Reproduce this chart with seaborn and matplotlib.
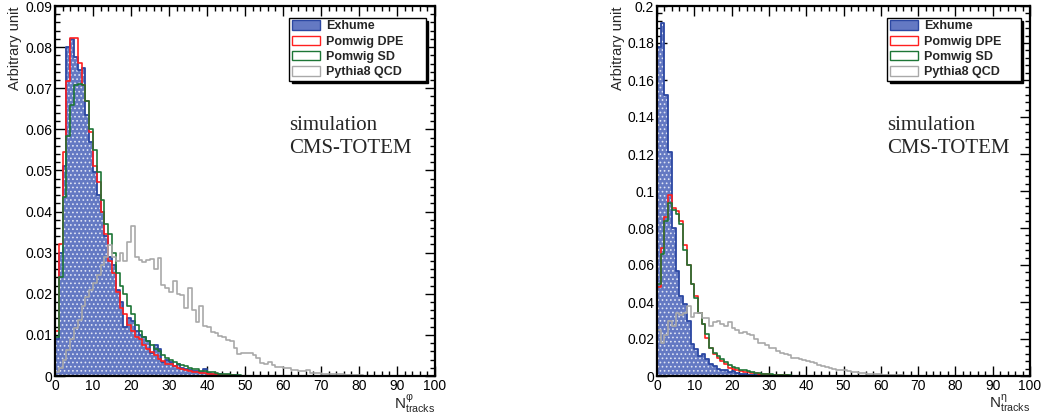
# N_tracks multiplicity, CMS-TOTEM simulation - two panels (phi / eta)
import numpy as np
import pandas as pd
import matplotlib
matplotlib.use("Agg")
import matplotlib.pyplot as plt
import seaborn as sns
from matplotlib.patches import Patch
from matplotlib.ticker import MultipleLocator, FuncFormatter

# bin contents, one value per unit-width bin starting at 0 (rest are empty)
phi_exhume = [0.009, 0.030, 0.051, 0.080, 0.082, 0.0775, 0.0745, 0.075, 0.0635, 0.057,
              0.0495, 0.044, 0.040, 0.034, 0.029, 0.027, 0.021, 0.018, 0.012, 0.014,
              0.0135, 0.011, 0.010, 0.0095, 0.0085, 0.0055, 0.0075, 0.0065, 0.0035, 0.004,
              0.0035, 0.0025, 0.0028, 0.002, 0.0018, 0.0015, 0.0012, 0.0012, 0.001, 0.0016,
              0.0008, 0.0006, 0.0005, 0.0004, 0.0003, 0.0003, 0.0002, 0.0002, 0.0001, 0.0001]
phi_dpe = [0.011, 0.032, 0.0545, 0.0717, 0.0823, 0.0823, 0.0761, 0.0707, 0.0668, 0.0594,
           0.0511, 0.0473, 0.040, 0.0345, 0.028, 0.025, 0.0205, 0.0165, 0.015, 0.0125,
           0.011, 0.0095, 0.009, 0.0075, 0.0065, 0.0058, 0.005, 0.0042, 0.0037, 0.003,
           0.0028, 0.0025, 0.002, 0.0018, 0.0015, 0.0013, 0.001, 0.0009, 0.0008, 0.0007,
           0.0006, 0.0005, 0.0004, 0.0003, 0.0003, 0.0002, 0.0002, 0.0001, 0.0001, 0.0001]
phi_sd = [0.0095, 0.024, 0.0435, 0.0584, 0.066, 0.0707, 0.071, 0.0707, 0.067, 0.060,
          0.055, 0.0497, 0.0427, 0.037, 0.0345, 0.030, 0.025, 0.022, 0.020, 0.017,
          0.015, 0.0125, 0.011, 0.0095, 0.0085, 0.0075, 0.0065, 0.006, 0.005, 0.0045,
          0.004, 0.0035, 0.003, 0.0027, 0.0024, 0.002, 0.0018, 0.0016, 0.0013, 0.0012,
          0.001, 0.0009, 0.0008, 0.0006, 0.0005, 0.0004, 0.0003, 0.0003, 0.0002, 0.0001]
phi_qcd = [0.001, 0.002, 0.004, 0.0063, 0.009, 0.0116, 0.0137, 0.017, 0.0193, 0.021,
           0.0226, 0.0246, 0.027, 0.029, 0.0318, 0.029, 0.028, 0.030, 0.028, 0.0326,
           0.0364, 0.029, 0.0282, 0.0277, 0.0282, 0.0285, 0.026, 0.0287, 0.0221, 0.0215,
           0.0205, 0.023, 0.020, 0.0198, 0.0165, 0.0215, 0.016, 0.0132, 0.017, 0.0122,
           0.012, 0.0108, 0.0105, 0.0097, 0.0095, 0.0088, 0.0085, 0.0068, 0.0054, 0.0057,
           0.0057, 0.0055, 0.0052, 0.0045, 0.0032, 0.003, 0.0035, 0.0027, 0.0023, 0.0023,
           0.002, 0.0019, 0.0015, 0.0015, 0.0012, 0.0013, 0.0014, 0.0008, 0.0007, 0.0007,
           0.0005, 0.0004, 0.0004, 0.0004, 0.0004, 0.0004, 0.0003, 0.0003, 0.0002, 0.0002,
           0.0002, 0.0001]

eta_exhume = [0.178, 0.191, 0.152, 0.121, 0.080, 0.0568, 0.043, 0.0387, 0.0297, 0.0171,
              0.0144, 0.0108, 0.0117, 0.009, 0.0063, 0.0054, 0.0036, 0.003, 0.0032, 0.002,
              0.0025, 0.0015, 0.0012, 0.001, 0.0008, 0.0006, 0.0005, 0.0004, 0.0003, 0.0002,
              0.0002, 0.0001]
eta_dpe = [0.048, 0.069, 0.086, 0.098, 0.091, 0.089, 0.084, 0.071, 0.060, 0.050,
           0.043, 0.034, 0.028, 0.0207, 0.0153, 0.0117, 0.0099, 0.008, 0.0063, 0.0045,
           0.004, 0.0032, 0.0027, 0.0022, 0.002, 0.0017, 0.0014, 0.0012, 0.001, 0.0009,
           0.0008, 0.0006, 0.0005, 0.0004, 0.0003, 0.0002, 0.0002, 0.0001]
eta_sd = [0.0495, 0.066, 0.084, 0.0935, 0.0897, 0.0874, 0.082, 0.068, 0.060, 0.0495,
          0.042, 0.034, 0.028, 0.0225, 0.0153, 0.0126, 0.0108, 0.009, 0.0075, 0.006,
          0.005, 0.0042, 0.0035, 0.003, 0.0025, 0.002, 0.0018, 0.0015, 0.0012, 0.001,
          0.0009, 0.0007, 0.0006, 0.0005, 0.0004, 0.0003, 0.0002, 0.0001]
eta_qcd = [0.025, 0.018, 0.022, 0.030, 0.027, 0.034, 0.033, 0.034, 0.038, 0.032,
           0.034, 0.034, 0.0315, 0.0315, 0.027, 0.029, 0.0297, 0.028, 0.027, 0.029,
           0.026, 0.025, 0.0234, 0.024, 0.0225, 0.022, 0.020, 0.018, 0.018, 0.0165,
           0.0153, 0.015, 0.0135, 0.0125, 0.012, 0.0115, 0.010, 0.0095, 0.009, 0.0085,
           0.008, 0.0075, 0.007, 0.006, 0.0055, 0.005, 0.0045, 0.004, 0.0035, 0.003,
           0.003, 0.0025, 0.0022, 0.002, 0.0018, 0.0015, 0.0013, 0.0012, 0.001, 0.0009,
           0.0008, 0.0006, 0.0005, 0.0004, 0.0003, 0.0003]

labels = ["Exhume", "Pomwig DPE", "Pomwig SD", "Pythia8 QCD"]

FILL_BLUE = "#6479c3"
EDGE_BLUE = "#2c48a2"
RED = "#ff1f1f"
GREEN = "#1d7636"
GRAY = "#a9a9a9"

sns.set_style("ticks")
plt.rcParams["font.family"] = ["Liberation Sans", "DejaVu Sans"]
plt.rcParams["mathtext.fontset"] = "custom"
plt.rcParams["mathtext.rm"] = "Liberation Sans"
plt.rcParams["mathtext.it"] = "Liberation Sans:italic"
plt.rcParams["hatch.linewidth"] = 0.7


def to_frame(vals):
    vals = np.asarray(vals, dtype=float)
    return pd.DataFrame({"n": np.arange(len(vals)) + 0.5, "w": vals})


def hist(ax, vals, **kw):
    sns.histplot(data=to_frame(vals), x="n", weights="w", binwidth=1, binrange=(0, 100),
                 element="step", ax=ax, **kw)


def panel(ax, exhume, dpe, sd, qcd, ymax, ymaj, sym):
    # dotted fill (hatch takes the edge colour, so the edge is drawn separately)
    hist(ax, exhume, fill=True, facecolor=FILL_BLUE, edgecolor="#dfe4f4", linewidth=0,
         hatch="....")
    hist(ax, exhume, fill=False, color=EDGE_BLUE, linewidth=1.3)
    hist(ax, dpe, fill=False, color=RED, linewidth=1.2)
    hist(ax, sd, fill=False, color=GREEN, linewidth=1.2)
    hist(ax, qcd, fill=False, color=GRAY, linewidth=1.2)

    ax.set_xlim(0, 100)
    ax.set_ylim(0, ymax)
    ax.xaxis.set_major_locator(MultipleLocator(10))
    ax.xaxis.set_minor_locator(MultipleLocator(2))
    ax.yaxis.set_major_locator(MultipleLocator(ymaj))
    ax.yaxis.set_minor_locator(MultipleLocator(ymaj / 5))
    ax.yaxis.set_major_formatter(FuncFormatter(lambda v, p: "%g" % round(v, 4)))
    ax.tick_params(which="both", direction="in", top=True, right=True, width=1,
                   labelsize=10, pad=2, colors="black")
    ax.tick_params(which="major", length=7)
    ax.tick_params(which="minor", length=3.5)
    for s in ax.spines.values():
        s.set_linewidth(1.6)
        s.set_color("black")

    ax.set_ylabel("Arbitrary unit", fontsize=10.5, loc="top")
    ax.yaxis.set_label_coords(-0.087, 1.0)
    ax.set_xlabel(r"$\mathrm{N}^{\mathrm{%s}}_{\mathrm{tracks}}$" % sym, fontsize=11,
                  loc="right", labelpad=0)

    handles = [Patch(facecolor=FILL_BLUE, edgecolor=EDGE_BLUE, label=labels[0]),
               Patch(facecolor="white", edgecolor=RED, label=labels[1]),
               Patch(facecolor="white", edgecolor=GREEN, label=labels[2]),
               Patch(facecolor="white", edgecolor=GRAY, label=labels[3])]
    x0 = 0.617
    leg = ax.legend(handles=handles, loc="upper left", bbox_to_anchor=(x0, 0.968, 0.975 - x0, 0.0),
                    mode="expand", frameon=True, fancybox=False, framealpha=1,
                    edgecolor="black", shadow={"color": "black", "alpha": 1},
                    prop={"weight": "bold", "size": 9}, handlelength=2.25, handleheight=0.8,
                    handletextpad=0.5, borderpad=0.2, labelspacing=0.25, borderaxespad=0)
    leg.get_frame().set_linewidth(1.0)

    ax.text(x0, 0.665, "simulation", transform=ax.transAxes, family="Liberation Serif",
            fontsize=15, va="baseline", ha="left")
    ax.text(x0, 0.603, "CMS-TOTEM", transform=ax.transAxes, family="Liberation Serif",
            fontsize=15, va="baseline", ha="left")


fig = plt.figure(figsize=(10.53, 4.19), dpi=100)
ax1 = fig.add_axes([55 / 1053, 1 - 376 / 419, 380 / 1053, 370 / 419])
ax2 = fig.add_axes([657 / 1053, 1 - 376 / 419, 373 / 1053, 370 / 419])

panel(ax1, phi_exhume, phi_dpe, phi_sd, phi_qcd, 0.09, 0.01, "\u03c6")
panel(ax2, eta_exhume, eta_dpe, eta_sd, eta_qcd, 0.2, 0.02, "\u03b7")

fig.savefig("out.png", dpi=100, facecolor="white")
